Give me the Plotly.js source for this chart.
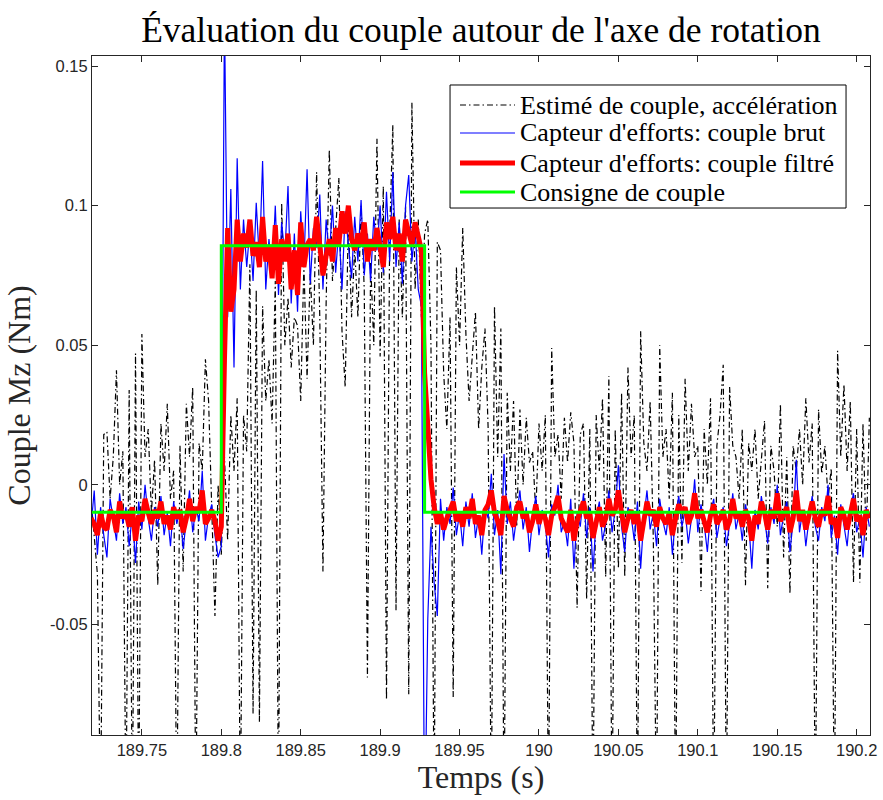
<!DOCTYPE html>
<html>
<head>
<meta charset="utf-8">
<script src="https://cdn.plot.ly/plotly-3.0.1.min.js"></script>
<style>html,body{margin:0;padding:0;background:#fff;}#chart{width:883px;height:800px;}</style>
</head>
<body>
<div id="chart"></div>
<script>
// Sampling grid (s)
const tStart = 189.718;
const tStep = 0.002;

// Estimé de couple (accélération), mNm
const estimAccel = [
-5,-20,-32,-120,18,19,-5,10,41,0,
12,-120,34,-120,47,-120,54,10,20,-10,
9,-36,22,5,29,-5,5,-120,14,-31,
29,10,35,-120,15,5,45,30,-10,-47,
0,-25,10,-20,25,5,31,-120,25,12,
79,-82,70,-85,64,30,45,22,73,-120,
101,50,67,42,60,57,30,79,38,76,
50,112,60,-31,65,120,73,90,110,55,
35,95,60,85,60,100,70,-69,80,50,
124,46,107,-77,90,129,-45,95,60,100,
-75,137,70,95,60,90,95,50,-120,87,
84,40,20,60,-76,78,50,92,54,30,
45,62,20,42,56,20,-120,64,10,56,
-120,33,5,30,-15,27,0,24,8,12,
-10,22,5,25,-120,49,10,18,-5,24,
8,26,15,-44,18,22,-41,20,-120,25,
5,31,-33,39,-120,20,-30,33,-33,42,
10,25,-120,55,15,5,30,-20,-120,50,
10,20,-5,33,-120,25,-28,38,5,29,
10,14,-38,20,0,31,-120,14,25,43,
-120,35,14,10,-5,20,-36,15,5,20,
-5,10,23,-37,14,5,-15,29,-26,10,
-39,14,5,20,0,31,8,22,-120,27,
4,14,-5,6,-120,48,10,36,5,30,
-35,20,-35,22,-20,24
];

// Capteur d'efforts : couple brut, mNm
const rawSensor = [
-15,-2,-25,-8,-18,-26,-5,-12,-20,-3,
-14,-8,-22,-10,-28,-6,-16,0,-12,-20,
-8,-15,-4,-18,-10,-22,-6,-14,-9,-23,
-12,-2,-17,-8,-13,5,-20,-11,-7,-18,
-26,-22,170,60,106,42,117,70,95,78,
92,73,101,80,116,70,88,75,100,68,
94,82,107,65,90,62,98,78,113,72,
92,85,104,70,95,82,100,76,92,70,
98,86,74,96,80,102,75,90,73,96,
84,100,76,105,80,112,78,94,72,100,
111,80,92,70,64,-130,-48,-15,-35,-47,
-5,-20,-8,-14,-1,-18,-10,-22,-6,-15,
-3,-19,-11,-25,-8,-12,4,-18,-9,-32,
11,-14,-6,-20,-10,-2,-16,-8,-24,-12,
-4,-18,-9,-14,-26,-7,-11,0,-17,-13,
-22,-5,-30,-10,-15,-3,-19,-8,-31,-12,
-6,-20,-14,-2,-17,-9,7,-15,-24,-8,
-11,-20,-6,-30,-12,-2,-16,-10,-22,-5,
-13,-18,-8,-25,-11,-4,-15,-9,-21,-12,
2,-17,-7,-14,-24,-10,-5,-19,-12,-8,
-22,-14,-3,-16,-10,-20,-7,-13,-30,-9,
-16,-4,-12,-21,-8,-14,0,-18,-11,-6,
-24,-13,9,-17,-9,-22,-12,-4,-15,-20,
-8,-13,0,-19,-11,-25,-7,-14,-22,-9,
-3,-17,-12,-26,-8,-15
];

// Capteur d'efforts : couple filtré, mNm
const filteredSensor = [
-12,-14,-18,-10,-15,-16,-9,-11,-17,-6,
-12,-10,-15,-8,-20,-11,-13,-5,-10,-14,
-9,-12,-6,-14,-11,-16,-8,-12,-9,-17,
-12,-5,-13,-8,-10,-2,-14,-12,-9,-13,
-20,-15,45,92,62,70,95,80,90,85,
95,82,87,78,96,80,86,74,93,72,
88,80,90,70,84,68,94,78,86,88,
84,96,86,75,82,88,80,92,86,98,
90,100,88,84,90,86,94,80,88,84,
92,86,78,94,88,96,84,90,80,95,
90,86,94,88,84,40,18,2,-8,-14,
-10,-16,-12,-9,-6,-13,-10,-15,-8,-12,
-5,-14,-11,-18,-9,-7,-2,-10,-13,-18,
-4,-9,-12,-15,-8,-6,-12,-10,-17,-13,
-7,-14,-10,-12,-18,-11,-8,-4,-12,-15,
-17,-9,-20,-13,-10,-6,-12,-10,-19,-14,
-8,-15,-12,-5,-11,-9,-2,-10,-17,-12,
-9,-14,-10,-20,-13,-6,-11,-9,-15,-8,
-12,-14,-10,-18,-12,-7,-10,-8,-14,-11,
-3,-12,-9,-13,-17,-11,-7,-14,-12,-9,
-16,-13,-5,-12,-10,-15,-9,-12,-20,-11,
-14,-6,-10,-16,-9,-12,-3,-13,-10,-8,
-17,-12,-2,-13,-9,-16,-11,-6,-12,-15,
-9,-11,-4,-14,-12,-19,-8,-11,-16,-10,
-5,-13,-11,-18,-9,-12
];

// Consigne de couple (step), Nm
const setpointTime = [189.718, 189.800, 189.800, 189.928, 189.928, 190.208];
const setpointValue = [-0.0098, -0.0098, 0.0856, 0.0856, -0.0098, -0.0098];

// Tick labels
const xTickVals = [189.75, 189.8, 189.85, 189.9, 189.95, 190, 190.05, 190.1, 190.15, 190.2];
const xTickText = ["189.75", "189.8", "189.85", "189.9", "189.95", "190", "190.05", "190.1", "190.15", "190.2"];
const yTickVals = [-0.05, 0, 0.05, 0.1, 0.15];
const yTickText = ["-0.05", "0", "0.05", "0.1", "0.15"];

const seriesNames = [
  "Estimé de couple, accélération",
  "Capteur d'efforts: couple brut",
  "Capteur d'efforts: couple filtré",
  "Consigne de couple"
];

const time = estimAccel.map((_, i) => +(tStart + i * tStep).toFixed(4));
const toNm = a => a.map(v => v / 1000);

const serif = "Liberation Serif, Times New Roman, serif";
const sans = "Liberation Sans, Arial, sans-serif";
const axisColor = "#262626";
const blackDash = "6px,3px,1.5px,3px";

const styles = [
  {color: "#000000", width: 1.2, dash: blackDash},
  {color: "#0000ff", width: 1.2, dash: "solid"},
  {color: "#ff0000", width: 5, dash: "solid"},
  {color: "#00ff00", width: 3, dash: "solid"}
];

const traces = [
  {x: time, y: toNm(estimAccel), type: "scatter", mode: "lines", name: seriesNames[0], line: styles[0]},
  {x: time, y: toNm(rawSensor), type: "scatter", mode: "lines", name: seriesNames[1], line: styles[1]},
  {x: time, y: toNm(filteredSensor), type: "scatter", mode: "lines", name: seriesNames[2], line: styles[2]},
  {x: setpointTime, y: setpointValue, type: "scatter", mode: "lines", name: seriesNames[3], line: styles[3]}
];

// Legend box drawn in paper coordinates (MATLAB-style compact legend)
const legBox = {x0: 0.4602, x1: 0.9692, y0: 0.7761, y1: 0.9573};
const legRows = [0.9278, 0.8866, 0.8424, 0.7997];
const legLineX = [0.4730, 0.5437];
const legTextX = 0.5475;

const shapes = [{type: "rect", xref: "paper", yref: "paper", x0: legBox.x0, x1: legBox.x1, y0: legBox.y0, y1: legBox.y1,
                 line: {color: "#000000", width: 1}, fillcolor: "#ffffff", layer: "above"}];
const annotations = [];
seriesNames.forEach((nm, k) => {
  shapes.push({type: "line", xref: "paper", yref: "paper", x0: legLineX[0], x1: legLineX[1], y0: legRows[k], y1: legRows[k],
               line: {color: styles[k].color, width: styles[k].width, dash: styles[k].dash}, layer: "above"});
  annotations.push({xref: "paper", yref: "paper", x: legTextX, y: legRows[k], xanchor: "left", yanchor: "middle",
                    text: nm, showarrow: false, font: {family: serif, size: 26, color: "#000000"}});
});

const layout = {
  width: 883, height: 800,
  margin: {l: 92, r: 13, t: 56, b: 65},
  paper_bgcolor: "#ffffff", plot_bgcolor: "#ffffff",
  title: {text: "Évaluation du couple autour de l'axe de rotation", font: {family: serif, size: 35.5, color: "#000000"},
          x: 0.5, xref: "paper", xanchor: "center", y: 0.963, yanchor: "middle"},
  showlegend: false,
  shapes: shapes,
  annotations: annotations,
  xaxis: {range: [189.7186, 190.2084], tickvals: xTickVals, ticktext: xTickText,
          ticks: "inside", ticklen: 6, tickcolor: axisColor, tickwidth: 1,
          showline: true, linecolor: axisColor, linewidth: 1, mirror: "ticks", showgrid: false, zeroline: false,
          tickfont: {family: sans, size: 16.5, color: axisColor},
          title: {text: "Temps (s)", font: {family: serif, size: 32, color: "#262626"}, standoff: 4}},
  yaxis: {range: [-0.0896, 0.1536], tickvals: yTickVals, ticktext: yTickText,
          ticks: "inside", ticklen: 6, tickcolor: axisColor, tickwidth: 1,
          showline: true, linecolor: axisColor, linewidth: 1, mirror: "ticks", showgrid: false, zeroline: false,
          tickfont: {family: sans, size: 16.5, color: axisColor},
          title: {text: "Couple Mz (Nm)", font: {family: serif, size: 32, color: "#262626"}, standoff: 9}}
};

Plotly.newPlot("chart", traces, layout, {displayModeBar: false, staticPlot: true});
</script>
</body>
</html>
